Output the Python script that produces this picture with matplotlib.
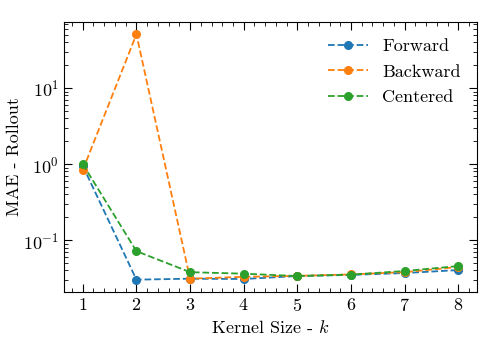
import numpy as np
import matplotlib as mpl
mpl.use("Agg")
import matplotlib.pyplot as plt
from matplotlib.ticker import MultipleLocator

plt.rcParams.update({
    "font.family": "serif",
    "font.serif": ["cmr10", "DejaVu Serif"],
    "mathtext.fontset": "cm",
    "axes.formatter.use_mathtext": True,
    "font.size": 13,
    "axes.linewidth": 0.8,
    "xtick.direction": "in", "ytick.direction": "in",
    "xtick.top": True, "ytick.right": True,
    "xtick.major.size": 5.5, "ytick.major.size": 5.5,
    "xtick.minor.size": 3, "ytick.minor.size": 3,
})

kernel = [1, 2, 3, 4, 5, 6, 7, 8]
forward = [0.95, 0.0303, 0.0312, 0.0309, 0.0338, 0.0350, 0.0370, 0.0405]
backward = [0.835, 50.8, 0.0312, 0.0330, 0.0340, 0.0355, 0.0380, 0.0445]
centered = [1.0, 0.0718, 0.0380, 0.0363, 0.0338, 0.0353, 0.0394, 0.0457]

fig = plt.figure(figsize=(4.98, 3.56), dpi=100)
ax = fig.add_axes([0.1285, 0.18, 0.8295, 0.758])

for y, lab in [(forward, "Forward"), (backward, "Backward"), (centered, "Centered")]:
    ax.plot(kernel, y, "o--", ms=5.5, lw=1.3, label=lab)

ax.set_yscale("log")
ax.xaxis.set_major_locator(MultipleLocator(1))
ax.xaxis.set_minor_locator(MultipleLocator(0.2))
ax.set_xlabel("Kernel Size - $k$")
ax.set_ylabel("MAE - Rollout", labelpad=1)
ax.legend(frameon=False, loc="upper right", fontsize=13, handlelength=2.2,
          labelspacing=0.55)

fig.savefig("out.png", dpi=100)
